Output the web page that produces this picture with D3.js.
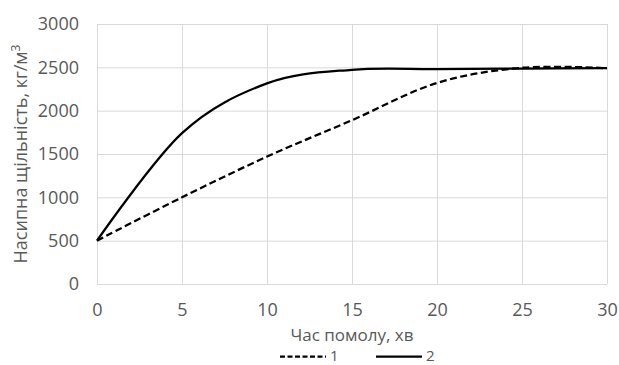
<!DOCTYPE html>
<html>
<head>
<meta charset="utf-8">
<script src="https://cdn.jsdelivr.net/npm/d3@7"></script>
<style>
  body { margin: 0; background: #fff; }
  text { font-family: "Open Sans", sans-serif; fill: #595959; }
</style>
</head>
<body>
<script>
// Data
var times = [0, 5, 10, 15, 20, 25, 30];
var series1 = [500, 1000, 1470, 1890, 2320, 2495, 2490];
var series2 = [500, 1740, 2315, 2472, 2480, 2486, 2490];
var xTicks = [0, 5, 10, 15, 20, 25, 30];
var yTicks = [0, 500, 1000, 1500, 2000, 2500, 3000];

var W = 619, H = 365;
var margin = { top: 24, right: 12, bottom: 81, left: 97 },
  width = W - margin.left - margin.right,
  height = H - margin.top - margin.bottom;

var x = d3.scaleLinear().domain([0, 30]).range([0, width]);
var y = d3.scaleLinear().domain([0, 3000]).range([height, 0]);

var svg = d3.select("body").append("svg")
  .attr("width", W).attr("height", H);

var g = svg.append("g")
  .attr("transform", "translate(" + margin.left + "," + margin.top + ")");

// grid
g.selectAll(".hgrid").data(yTicks).enter().append("line")
  .attr("x1", 0).attr("x2", width)
  .attr("y1", function (d) { return y(d) + 0.5; })
  .attr("y2", function (d) { return y(d) + 0.5; })
  .attr("stroke", "#d9d9d9").attr("stroke-width", 1);
g.selectAll(".vgrid").data(xTicks).enter().append("line")
  .attr("y1", 0).attr("y2", height)
  .attr("x1", function (d) { return x(d) + 0.5; })
  .attr("x2", function (d) { return x(d) + 0.5; })
  .attr("stroke", "#d9d9d9").attr("stroke-width", 1);

// axes (labels only)
var xAxis = g.append("g")
  .attr("transform", "translate(0," + height + ")")
  .call(d3.axisBottom(x).tickValues(xTicks).tickFormat(d3.format("d")).tickSize(0).tickPadding(19));
var yAxis = g.append("g")
  .call(d3.axisLeft(y).tickValues(yTicks).tickFormat(d3.format("d")).tickSize(0).tickPadding(18));
[xAxis, yAxis].forEach(function (a) {
  a.select(".domain").remove();
  a.selectAll("text").attr("font-family", "Open Sans").attr("font-size", 18).attr("fill", "#595959");
});

// lines
var line = d3.line()
  .x(function (d) { return x(d[0]); })
  .y(function (d) { return y(d[1]); })
  .curve(d3.curveCardinal.tension(0));

var data1 = times.map(function (t, i) { return [t, series1[i]]; });
var data2 = times.map(function (t, i) { return [t, series2[i]]; });

g.append("path").attr("d", line(data1))
  .attr("fill", "none").attr("stroke", "#000").attr("stroke-width", 2.25)
  .attr("stroke-dasharray", "7,3.5");
g.append("path").attr("d", line(data2))
  .attr("fill", "none").attr("stroke", "#000").attr("stroke-width", 2.25);

// axis titles
svg.append("text")
  .attr("x", margin.left + width / 2).attr("y", 341)
  .attr("text-anchor", "middle").attr("font-size", 17)
  .text("Час помолу, хв");

var yt = svg.append("text")
  .attr("transform", "translate(27," + (margin.top + height / 2) + ") rotate(-90)")
  .attr("text-anchor", "middle").attr("font-size", 18);
yt.append("tspan").text("Насипна щільність, кг/м");
yt.append("tspan").attr("dy", -7).attr("font-size", 12).text("3");

// legend
var legend = [
  { label: "1", dash: "5,2.5", x: 280 },
  { label: "2", dash: null, x: 376 }
];
legend.forEach(function (d) {
  svg.append("line")
    .attr("x1", d.x).attr("x2", d.x + 46)
    .attr("y1", 356.5).attr("y2", 356.5)
    .attr("stroke", "#000").attr("stroke-width", 2.25)
    .attr("stroke-dasharray", d.dash);
  svg.append("text")
    .attr("x", d.x + 50).attr("y", 361)
    .attr("font-size", 15).text(d.label);
});
</script>
</body>
</html>
